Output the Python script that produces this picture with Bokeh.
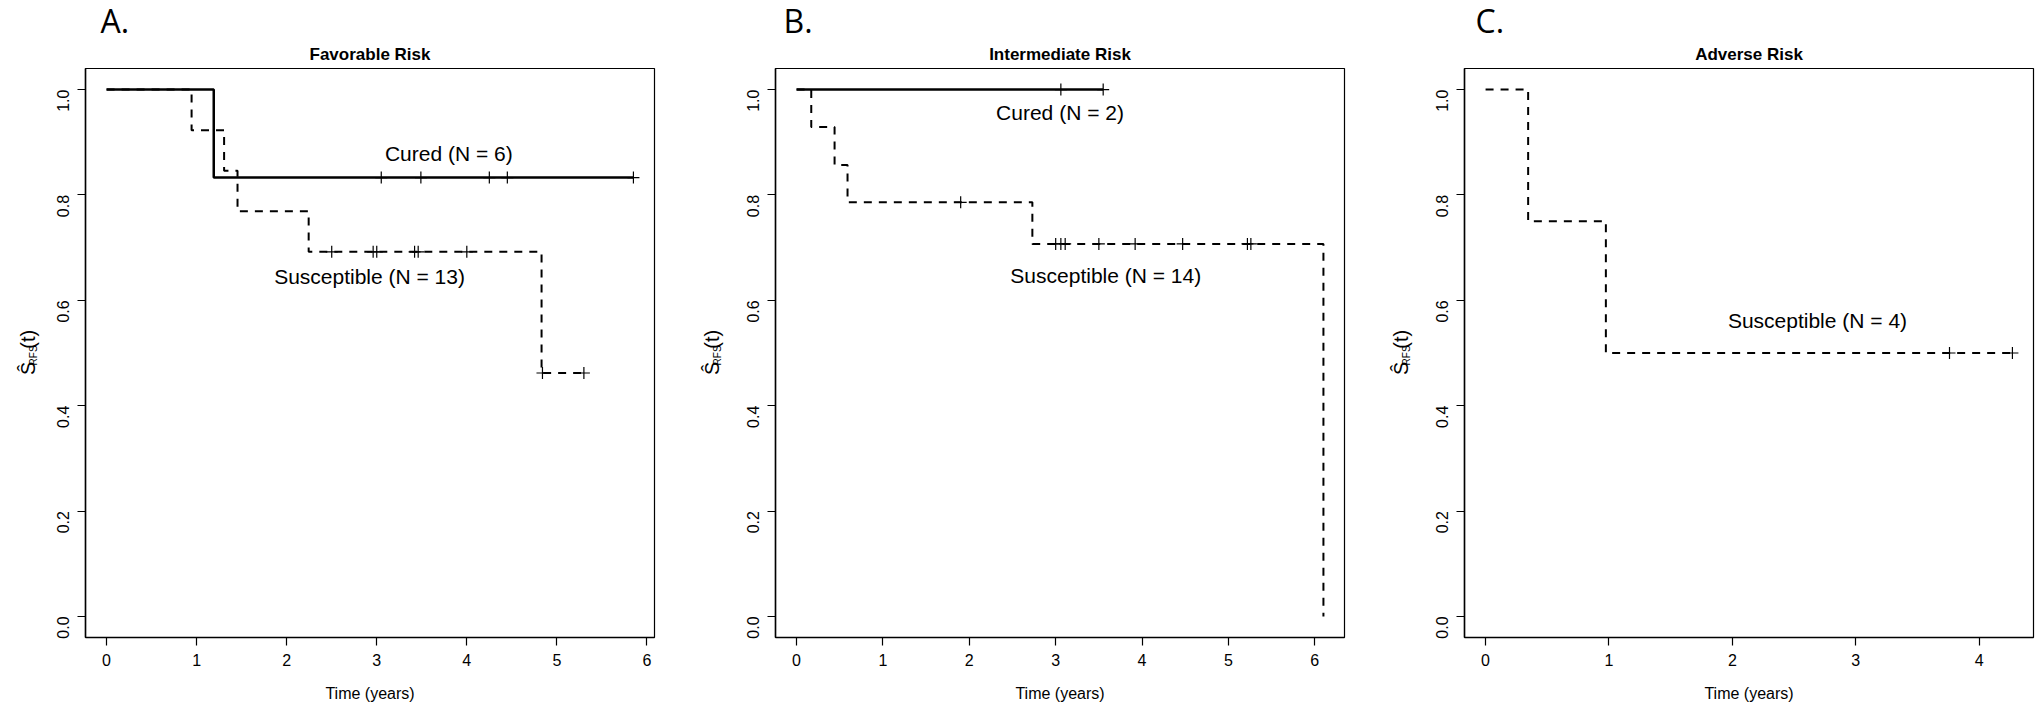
import math
from bokeh.plotting import figure
from bokeh.layouts import row
from bokeh.models import FixedTicker, PrintfTickFormatter, Label, Range1d, Title
from bokeh.embed import file_html
from bokeh.resources import INLINE
from bokeh.core.properties import value

# ---------------- data ----------------
# Panel A: Favorable Risk
a_cured_t = [0.0, 1.19, 5.85]
a_cured_s = [1.0, 0.833, 0.833]
a_cured_cens_t = [3.05, 3.49, 4.25, 4.45, 5.85]
a_cured_cens_s = [0.833, 0.833, 0.833, 0.833, 0.833]
a_susc_t = [0.0, 0.944, 1.305, 1.454, 2.244, 4.83, 5.30]
a_susc_s = [1.0, 0.923, 0.846, 0.769, 0.692, 0.462, 0.462]
a_susc_cens_t = [2.50, 2.96, 3.00, 3.42, 3.46, 4.00, 4.84, 5.30]
a_susc_cens_s = [0.692, 0.692, 0.692, 0.692, 0.692, 0.692, 0.462, 0.462]

# Panel B: Intermediate Risk
b_cured_t = [0.0, 3.55]
b_cured_s = [1.0, 1.0]
b_cured_cens_t = [3.06, 3.55]
b_cured_cens_s = [1.0, 1.0]
b_susc_t = [0.0, 0.17, 0.44, 0.59, 2.73, 6.10]
b_susc_s = [1.0, 0.929, 0.857, 0.786, 0.707, 0.0]
b_susc_cens_t = [1.90, 3.00, 3.06, 3.11, 3.50, 3.92, 4.47, 5.22, 5.26]
b_susc_cens_s = [0.786, 0.707, 0.707, 0.707, 0.707, 0.707, 0.707, 0.707, 0.707]

# Panel C: Adverse Risk
c_susc_t = [0.0, 0.345, 0.975, 4.27]
c_susc_s = [1.0, 0.75, 0.5, 0.5]
c_susc_cens_t = [3.76, 4.27]
c_susc_cens_s = [0.5, 0.5]

titles = ["Favorable Risk", "Intermediate Risk", "Adverse Risk"]
letters = ["A.", "B.", "C."]
x_ticks_a = [0, 1, 2, 3, 4, 5, 6]
x_ticks_b = [0, 1, 2, 3, 4, 5, 6]
x_ticks_c = [0, 1, 2, 3, 4]
y_ticks = [0.0, 0.2, 0.4, 0.6, 0.8, 1.0]
x_label = "Time (years)"
y_label_parts = ["\u015c", "RFS", "(t)"]

FONT = "Liberation Sans"
STRIP_H = 704
LEFT_B = 42


def ylabel_strip(w, base):
    """Narrow figure holding the rotated y-axis label S-hat_RFS(t)."""
    q = figure(width=w, height=STRIP_H, min_border_left=0, min_border_right=0,
               min_border_top=0, min_border_bottom=0,
               x_range=Range1d(0, w), y_range=Range1d(STRIP_H, 0),
               output_backend="svg", toolbar_location=None,
               background_fill_color="white", border_fill_color="white")
    q.axis.visible = False
    q.grid.visible = False
    q.outline_line_color = None
    q.text(x=[base], y=[371], text=[y_label_parts[0]], angle=math.pi / 2,
           text_font=value(FONT), text_font_size="20px",
           text_align="center", text_baseline="alphabetic", text_color="black")
    q.text(x=[base + 6], y=[355], text=[y_label_parts[1]], angle=math.pi / 2,
           text_font=value(FONT), text_font_size="10px",
           text_align="center", text_baseline="alphabetic", text_color="black")
    q.text(x=[base], y=[335], text=[y_label_parts[2]], angle=math.pi / 2,
           text_font=value(FONT), text_font_size="20px",
           text_align="center", text_baseline="alphabetic", text_color="black")
    return q


def make_panel(title, letter, xmax, xticks, curves, texts,
               border_right, letter_dx):
    pad = 0.04 * xmax
    x0, x1 = -pad, xmax + pad
    p = figure(frame_width=569, frame_height=569,
               min_border_left=LEFT_B, min_border_right=border_right,
               min_border_top=0, min_border_bottom=0,
               x_range=Range1d(x0, x1), y_range=Range1d(-0.04, 1.04),
               output_backend="svg", toolbar_location=None,
               background_fill_color="white", border_fill_color="white",
               title=letter)
    p.title.align = "left"
    p.title.offset = letter_dx
    p.title.text_font = "Open Sans"
    p.title.text_font_size = "32px"
    p.title.text_font_style = "normal"
    p.title.text_color = "black"
    p.title.standoff = -7
    p.add_layout(Title(text=title, align="center", text_font=FONT,
                       text_font_size="17px", text_font_style="bold",
                       text_color="black", standoff=9), "above")

    p.grid.visible = False
    p.outline_line_color = "black"
    p.outline_line_width = 1.2
    p.outline_line_alpha = 1.0

    for ax in (p.xaxis[0], p.yaxis[0]):
        ax.axis_line_color = "black"
        ax.axis_line_width = 1.5
        ax.major_tick_line_color = "black"
        ax.major_tick_line_width = 1.2
        ax.major_tick_out = 8
        ax.major_tick_in = 0
        ax.minor_tick_out = 0
        ax.minor_tick_in = 0
        ax.major_label_text_font = FONT
        ax.major_label_text_font_size = "16px"
        ax.major_label_text_color = "black"
        ax.major_label_standoff = 8
    p.xaxis.ticker = FixedTicker(ticks=xticks)
    p.yaxis.ticker = FixedTicker(ticks=y_ticks)
    p.yaxis.formatter = PrintfTickFormatter(format="%.1f")
    p.yaxis.major_label_orientation = math.pi / 2
    p.yaxis.major_label_standoff = 14

    p.xaxis.axis_label = x_label
    p.xaxis.axis_label_text_font = FONT
    p.xaxis.axis_label_text_font_size = "16px"
    p.xaxis.axis_label_text_font_style = "normal"
    p.xaxis.axis_label_text_color = "black"
    p.xaxis.axis_label_standoff = 16

    for (t, s, ct, cs, dash, lw) in curves:
        p.step(t, s, mode="after", line_color="black", line_width=lw,
               line_dash=dash)
        p.scatter(ct, cs, marker="cross", size=12, line_color="black",
                  line_width=1.2)

    for (tx, ty, txt) in texts:
        p.add_layout(Label(x=tx, y=ty, text=txt, text_font=FONT,
                           text_font_size="21px", text_align="center",
                           text_baseline="middle", text_color="black"))
    return p


SOLID = "solid"
DASH = "8 7"

pA = make_panel(
    titles[0], letters[0], max(a_cured_t + a_susc_t), x_ticks_a,
    [(a_susc_t, a_susc_s, a_susc_cens_t, a_susc_cens_s, DASH, 2.0),
     (a_cured_t, a_cured_s, a_cured_cens_t, a_cured_cens_s, SOLID, 2.5)],
    [(3.80, 0.879, "Cured (N = 6)"), (2.92, 0.645, "Susceptible (N = 13)")],
    border_right=34, letter_dx=15)

pB = make_panel(
    titles[1], letters[1], max(b_cured_t + b_susc_t), x_ticks_b,
    [(b_susc_t, b_susc_s, b_susc_cens_t, b_susc_cens_s, DASH, 2.0),
     (b_cured_t, b_cured_s, b_cured_cens_t, b_cured_cens_s, SOLID, 2.5)],
    [(3.05, 0.957, "Cured (N = 2)"), (3.58, 0.648, "Susceptible (N = 14)")],
    border_right=26, letter_dx=8)

pC = make_panel(
    titles[2], letters[2], max(c_susc_t), x_ticks_c,
    [(c_susc_t, c_susc_s, c_susc_cens_t, c_susc_cens_s, DASH, 2.0)],
    [(2.69, 0.561, "Susceptible (N = 4)")],
    border_right=8, letter_dx=11)

layout = row(ylabel_strip(43, 27), pA, ylabel_strip(45, 23), pB,
             ylabel_strip(52, 30), pC)
open("out.html", "w").write(file_html(layout, INLINE))
